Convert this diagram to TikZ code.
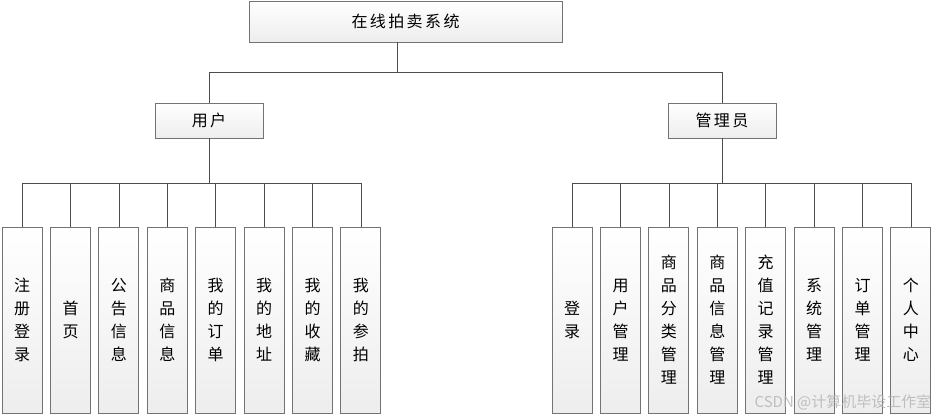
\documentclass[tikz,border=0pt]{standalone}
\usepackage{fontspec}
\setmainfont[LetterSpace=15]{Noto Sans CJK SC}

\begin{document}
\begin{tikzpicture}[
        x=1pt, y=1pt,
        grow=south, % Дерево растет сверху вниз
        level 1/.style = {level distance=99, sibling distance=513,
            edge from parent path={([xshift=-8.5]\tikzparentnode.south) -- +(0,-30) -| (\tikzchildnode.north)}},
        level 2/.style = {level distance=199.5, sibling distance=48.4,
            edge from parent path={(\tikzparentnode.south) -- +(0,-45) -| (\tikzchildnode.north)}},
        edge from parent/.style = {draw=black!70, line width=0.8pt},
        box/.style={draw=black!55, line width=0.9pt, top color=white, bottom color=black!7,
            inner sep=0pt, font=\fontsize{16}{23}\selectfont}, % Стиль узлов
        sysbox/.style={box, minimum width=313, minimum height=41},
        rolebox/.style={box, minimum width=108, minimum height=35},
        leaf/.style={box, minimum width=40, minimum height=186, align=center},
    ]

    \useasboundingbox (0,0) rectangle (935,-418);

    \node[sysbox] (sys) at (405.5,-21.5) {在线拍卖系统}
    child[xshift=60] {node[rolebox] (user) {用户}
            child[xshift=-17.5] {node[leaf] (u1) {注\\册\\登\\录}}
            child[xshift=-17.5] {node[leaf] (u2) {首\\页}}
            child[xshift=-17.5] {node[leaf] (u3) {公\\告\\信\\息}}
            child[xshift=-17.5] {node[leaf] (u4) {商\\品\\信\\息}}
            child[xshift=-17.5] {node[leaf] (u5) {我\\的\\订\\单}}
            child[xshift=-17.5] {node[leaf] (u6) {我\\的\\地\\址}}
            child[xshift=-17.5] {node[leaf] (u7) {我\\的\\收\\藏}}
            child[xshift=-17.5] {node[leaf] (u8) {我\\的\\参\\拍}}}
    child[xshift=60] {node[rolebox] (admin) {管理员}
            child[xshift=19.5] {node[leaf] (a1) {登\\录}}
            child[xshift=19.5] {node[leaf] (a2) {用\\户\\管\\理}}
            child[xshift=19.5] {node[leaf] (a3) {商\\品\\分\\类\\管\\理}}
            child[xshift=19.5] {node[leaf] (a4) {商\\品\\信\\息\\管\\理}}
            child[xshift=19.5] {node[leaf] (a5) {充\\值\\记\\录\\管\\理}}
            child[xshift=19.5] {node[leaf] (a6) {系\\统\\管\\理}}
            child[xshift=19.5] {node[leaf] (a7) {订\\单\\管\\理}}
            child[xshift=19.5] {node[leaf] (a8) {个\\人\\中\\心}}};

    \node[text=black!30, opacity=0.8, font=\fontsize{15}{15}\selectfont\addfontfeature{LetterSpace=0}] (mark) at (843,-402) {CSDN @计算机毕设工作室};
\end{tikzpicture}
\end{document}
